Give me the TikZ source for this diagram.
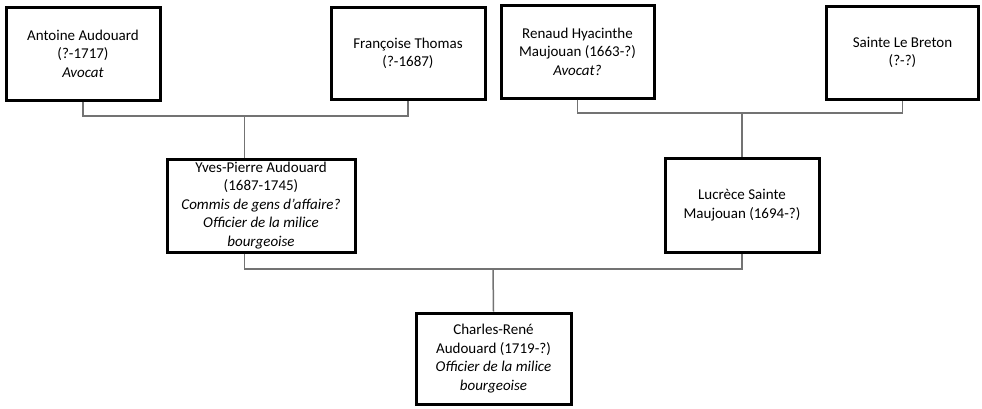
\documentclass[tikz,border=0pt]{standalone}
\usepackage{fontspec}
\setmainfont{Carlito}
\begin{document}
\begin{tikzpicture}[x=1pt,y=-1pt,
  person/.style={draw=black,line width=3pt,fill=white,align=center,inner sep=0pt,
    font=\fontsize{15}{18.5}\selectfont},
  link/.style={draw=black!55,line width=1.5pt}]
\useasboundingbox (0,0) rectangle (982,408);
\node[person,minimum width=154pt,minimum height=93pt] (A) at (83,53.5) {Antoine Audouard\\(?-1717)\\\textit{Avocat}};
\node[person,minimum width=154pt,minimum height=92pt] (F) at (408,53.5) {Françoise Thomas\\(?-1687)};
\node[person,minimum width=153pt,minimum height=93pt] (R) at (577.5,51.5) {Renaud Hyacinthe\\Maujouan (1663-?)\\\textit{Avocat?}};
\node[person,minimum width=152pt,minimum height=93pt] (S) at (902.5,52.5) {Sainte Le Breton\\(?-?)};
\node[person,minimum width=188pt,minimum height=93pt] (Y) at (261,205.5) {Yves-Pierre Audouard\\(1687-1745)\\\textit{Commis de gens d’affaire?}\\\textit{Officier de la milice}\\\textit{bourgeoise}};
\node[person,minimum width=154pt,minimum height=94pt] (L) at (742,205) {Lucrèce Sainte\\Maujouan (1694-?)};
\node[person,minimum width=155pt,minimum height=91pt] (C) at (493.5,358.5) {Charles-René\\Audouard (1719-?)\\\textit{Officier de la milice}\\\textit{bourgeoise}};
\coordinate (j1) at (244.5,116);
\coordinate (j2) at (742,113);
\coordinate (j3) at (493,269);
\draw[link] (A.south) |- (j1) -| (F.south);
\draw[link] (j1) -- (j1 |- Y.north);
\draw[link] (R.south) |- (j2) -| (S.south);
\draw[link] (j2) -- (L.north);
\draw[link] (j1 |- Y.south) |- (j3) -| (L.south);
\draw[link] (j3) -- (C.north);
\end{tikzpicture}
\end{document}
